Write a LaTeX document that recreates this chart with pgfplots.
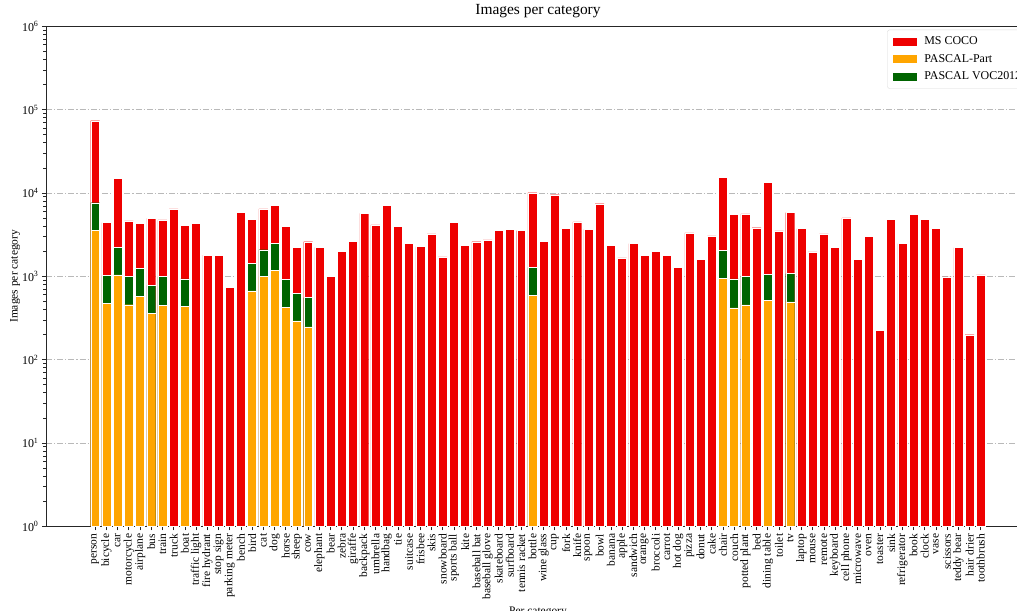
\documentclass[border=0pt]{standalone}
\usepackage{fontspec}
\setmainfont{Liberation Serif}
\usepackage{pgfplots}
\pgfplotsset{compat=1.18}
\usepackage{pgfplotstable}
\definecolor{cocored}{RGB}{238,0,0}
\definecolor{partorange}{RGB}{255,165,0}
\definecolor{vocgreen}{RGB}{0,100,0}

\pgfplotstableread{
x y
0 73600
1 4400
2 15000
3 4610
4 4325
5 4970
6 4740
7 6430
8 4100
9 4330
10 1790
11 1790
12 740
13 5800
14 4830
15 6430
16 7040
17 3940
18 2230
19 2600
20 2230
21 990
22 2000
23 2650
24 5700
25 4130
26 7110
27 3940
28 2490
29 2270
30 3220
31 1710
32 4450
33 2355
34 2600
35 2730
36 3590
37 3630
38 3530
39 10070
40 2650
41 9530
42 3730
43 4490
44 3665
45 7430
46 2355
47 1660
48 2465
49 1790
50 1995
51 1770
52 1283
53 3310
54 1585
55 3050
56 15420
57 5550
58 5595
59 3830
60 13430
61 3500
62 5800
63 3730
64 1960
65 3220
66 2205
67 5010
68 1600
69 2990
70 225
71 4830
72 2465
73 5550
74 4830
75 3730
76 981
77 2205
78 199
79 1037
}\coco

\pgfplotstableread{
x y
0 7640
1 1017
2 2205
3 989
4 1248
5 780
6 990
8 929
14 1432
15 2085
16 2490
17 911
18 619
19 554
39 1283
56 2050
57 929
58 990
60 1057
62 1075
}\voc

\pgfplotstableread{
x y
0 3590
1 474
2 1037
3 456
4 580
5 356
6 449
8 432
14 667
15 990
16 1190
17 425
18 291
19 248
39 586
56 936
57 417
58 453
60 515
62 492
}\part

\begin{document}
\begin{tikzpicture}
\begin{axis}[
  at={(0,0)}, anchor=south west,
  scale only axis, width=984bp, height=500bp,
  ymode=log, ymin=1, ymax=1e6,
  xmin=-4.39, xmax=83.39,
  ybar, bar width=0.8,
  xtick={0,...,79},
  xticklabels={person,bicycle,car,motorcycle,airplane,bus,train,truck,boat,traffic light,fire hydrant,stop sign,parking meter,bench,bird,cat,dog,horse,sheep,cow,elephant,bear,zebra,giraffe,backpack,umbrella,handbag,tie,suitcase,frisbee,skis,snowboard,sports ball,kite,baseball bat,baseball glove,skateboard,surfboard,tennis racket,bottle,wine glass,cup,fork,knife,spoon,bowl,banana,apple,sandwich,orange,broccoli,carrot,hot dog,pizza,donut,cake,chair,couch,potted plant,bed,dining table,toilet,tv,laptop,mouse,remote,keyboard,cell phone,microwave,oven,toaster,sink,refrigerator,book,clock,vase,scissors,teddy bear,hair drier,toothbrush},
  ytick={1,10,100,1000,10000,100000,1000000},
  yticklabels={10\textsuperscript{0},10\textsuperscript{1},10\textsuperscript{2},10\textsuperscript{3},10\textsuperscript{4},10\textsuperscript{5},10\textsuperscript{6}},
  xtick pos=bottom, ytick pos=left,
  tick align=outside,
  major tick length=4bp, minor tick length=2.5bp,
  tick style={black!85, line width=0.7bp},
  axis line style={black!85, line width=0.9bp},
  ymajorgrids=true,
  major grid style={gray!55, line width=0.8bp, dash pattern=on 6bp off 2bp on 1.2bp off 2bp},
  tick label style={font=\fontsize{11.5}{13}\selectfont},
  yticklabel style={font=\fontsize{12}{13}\selectfont},
  xticklabel style={rotate=90, anchor=east},
  title={Images per category},
  title style={at={(rel axis cs:0.5,1)}, anchor=base, yshift=5.5bp, font=\fontsize{15.5}{17}\selectfont},
  xlabel={Per category},
  xlabel style={at={(rel axis cs:0.5,0)}, anchor=north, yshift=-76.7bp, font=\fontsize{11.5}{13}\selectfont},
  ylabel={Images per category},
  ylabel style={at={(rel axis cs:0,0.5)}, anchor=center, rotate=0, yshift=31bp, font=\fontsize{11.5}{13}\selectfont},
  legend cell align=left,
  legend style={at={(0.855,0.9932)}, anchor=north west, draw=black!15, rounded corners=2bp,
    font=\fontsize{12}{13}\selectfont, inner xsep=5bp, inner ysep=5.5bp, row sep=4.3bp, column sep=7bp,
    nodes={inner sep=1bp, text height=8.5bp, text depth=2.5bp}},
]
\addplot[fill=cocored, draw=white, line width=0.4bp, bar shift=0pt, forget plot] table[x=x,y=y]{\coco};
\addplot[fill=vocgreen, draw=white, line width=0.4bp, bar shift=0pt, forget plot] table[x=x,y=y]{\voc};
\addplot[fill=partorange, draw=white, line width=0.4bp, bar shift=0pt, forget plot] table[x=x,y=y]{\part};
\addlegendimage{legend image code/.code={\fill[cocored, sharp corners] (0bp,-3.5bp) rectangle (23.4bp,3.5bp);}}
\addlegendentry{MS COCO}
\addlegendimage{legend image code/.code={\fill[partorange, sharp corners] (0bp,-3.5bp) rectangle (23.4bp,3.5bp);}}
\addlegendentry{PASCAL-Part}
\addlegendimage{legend image code/.code={\fill[vocgreen, sharp corners] (0bp,-3.5bp) rectangle (23.4bp,3.5bp);}}
\addlegendentry{PASCAL VOC2012}
\end{axis}
\pgfresetboundingbox
\path[use as bounding box] (-46bp,-84.7bp) rectangle (971bp,526.3bp);
\end{tikzpicture}
\end{document}
